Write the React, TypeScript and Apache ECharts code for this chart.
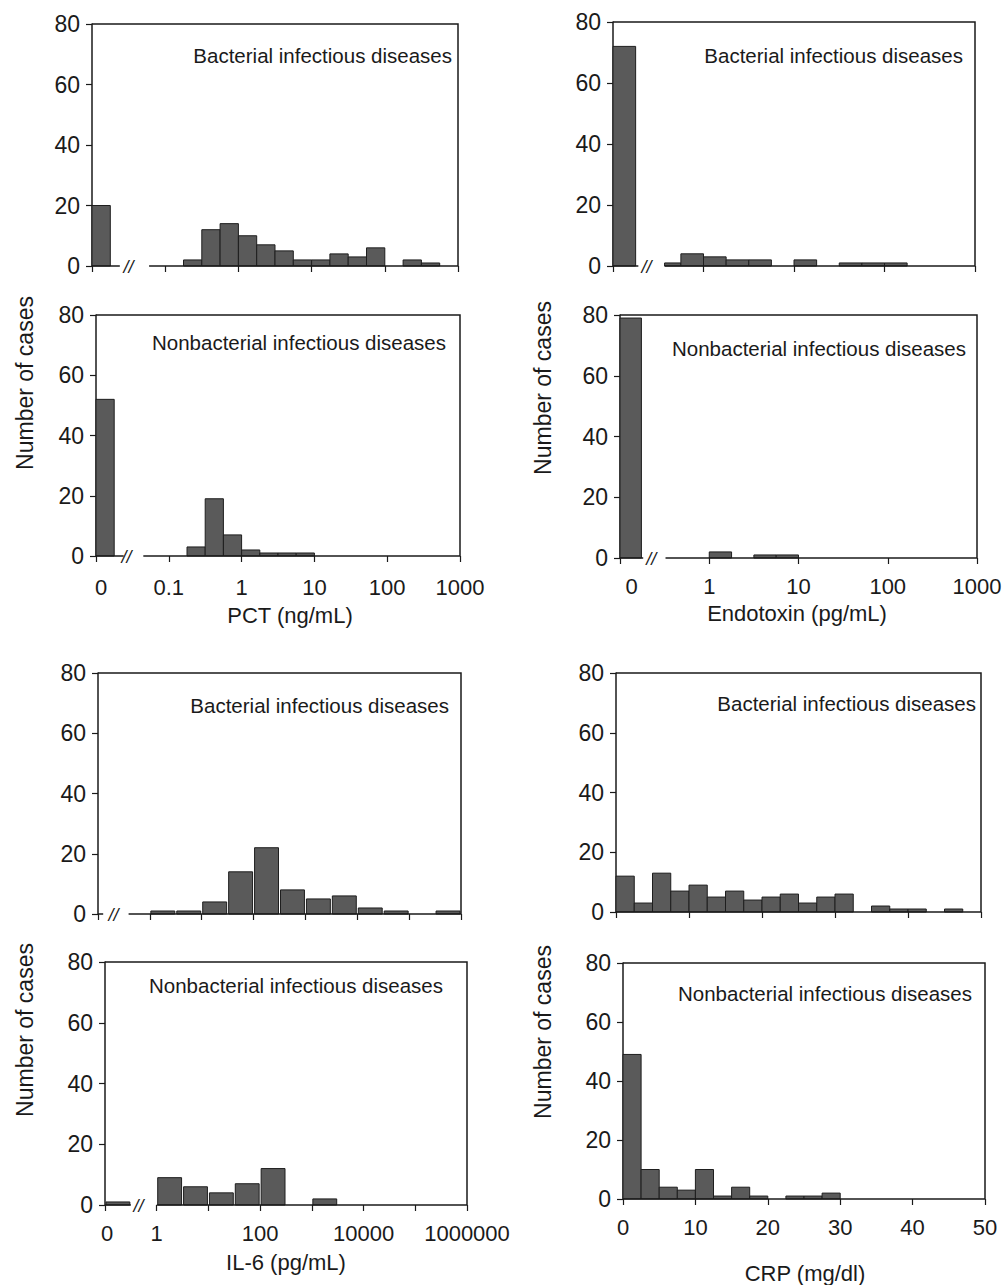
import React, { useEffect, useRef } from "react";
import * as echarts from "echarts";

// ---------------- DATA ----------------
// PCT (log10 scale, quarter-decade bins starting at 10^-0.75)
const pctBinStart = -0.75;
const pctBinWidth = 0.25;
const pctBactZero = 20;
const pctBactCounts = [2, 12, 14, 10, 7, 5, 2, 2, 4, 3, 6, 0, 2, 1, 0];
const pctNonZero = 52;
const pctNonCounts = [3, 19, 7, 2, 1, 1, 1, 0, 0, 0, 0, 0, 0, 0, 0];
const pctTickValues = [-1.93, -1, 0, 1, 2, 3];
const pctTickLabels = ["0", "0.1", "1", "10", "100", "1000"];

// Endotoxin (log10 scale, quarter-decade bins starting at 10^-0.5)
const endoBinStart = -0.5;
const endoBinWidth = 0.25;
const endoBactZero = 72;
const endoBactCounts = [1, 4, 3, 2, 2, 0, 2, 0, 1, 1, 1, 0, 0, 0];
const endoNonZero = 79;
const endoNonCounts = [0, 0, 2, 0, 1, 1, 0, 0, 0, 0, 0, 0, 0, 0];
const endoTickValues = [-0.87, 0, 1, 2, 3];
const endoTickLabels = ["0", "1", "10", "100", "1000"];

// IL-6 (log10 scale, half-decade bins starting at 10^0)
const il6BinStart = 0;
const il6BinWidth = 0.5;
const il6BactZero = 0;
const il6BactCounts = [1, 1, 4, 14, 22, 8, 5, 6, 2, 1, 0, 1];
const il6NonZero = 1;
const il6NonCounts = [9, 6, 4, 7, 12, 0, 2, 0, 0, 0, 0, 0];
const il6TickValues = [-0.96, 0, 2, 4, 6];
const il6TickLabels = ["0", "1", "100", "10000", "1000000"];

// CRP (linear, 2.5 mg/dl bins)
const crpBinStart = 0;
const crpBinWidth = 2.5;
const crpBactCounts = [12, 3, 13, 7, 9, 5, 7, 4, 5, 6, 3, 5, 6, 0, 2, 1, 1, 0, 1, 0];
const crpNonCounts = [49, 10, 4, 3, 10, 1, 4, 1, 0, 1, 1, 2, 0, 0, 0, 0, 0, 0, 0, 0];
const crpTickValues = [0, 10, 20, 30, 40, 50];
const crpTickLabels = ["0", "10", "20", "30", "40", "50"];

const yTicks = [0, 20, 40, 60, 80];
const bactTitle = "Bacterial infectious diseases";
const nonTitle = "Nonbacterial infectious diseases";

// ---------------- STYLE ----------------
const FONT = "'Liberation Sans', Arial, Helvetica, sans-serif";
const INK = "#1a1a1a";
const BAR_FILL = "#5a5a5a";
const BAR_STROKE = "#1e1e1e";

type Panel = {
  grid: { left: number; top: number; width: number; height: number };
  xMin: number;
  xMax: number;
  xInterval: number;
  zeroRange: number[] | null;
  zeroCount: number;
  binStart: number;
  binWidth: number;
  counts: number[];
  baseline: number[][];
  brk: number | null;
  clipFrom: number;
  gap: number;
  title: string;
  titleRight: number;
  titleY: number;
  labelValues: number[] | null;
  labelTexts: string[] | null;
  labelMargin: number;
};

const panels: Panel[] = [
  {
    grid: { left: 92, top: 24, width: 366, height: 242 },
    xMin: -2, xMax: 3, xInterval: 1,
    zeroRange: [-2, -1.75], zeroCount: pctBactZero,
    binStart: pctBinStart, binWidth: pctBinWidth, counts: pctBactCounts,
    baseline: [[-2, -1.62], [-1.22, 3]], brk: -1.5, clipFrom: -1.22, gap: 0,
    title: bactTitle, titleRight: 452, titleY: 55,
    labelValues: null, labelTexts: null, labelMargin: 20,
  },
  {
    grid: { left: 96, top: 315, width: 364, height: 241 },
    xMin: -2, xMax: 3, xInterval: 1,
    zeroRange: [-2, -1.75], zeroCount: pctNonZero,
    binStart: pctBinStart, binWidth: pctBinWidth, counts: pctNonCounts,
    baseline: [[-2, -1.62], [-1.35, 3]], brk: -1.58, clipFrom: -1.35, gap: 0,
    title: nonTitle, titleRight: 446, titleY: 342,
    labelValues: pctTickValues, labelTexts: pctTickLabels, labelMargin: 20,
  },
  {
    grid: { left: 613, top: 22, width: 362, height: 244 },
    xMin: -1, xMax: 3, xInterval: 1,
    zeroRange: [-1, -0.75], zeroCount: endoBactZero,
    binStart: endoBinStart, binWidth: endoBinWidth, counts: endoBactCounts,
    baseline: [[-1, -0.72], [-0.43, 3]], brk: -0.63, clipFrom: -0.43, gap: 0,
    title: bactTitle, titleRight: 963, titleY: 55,
    labelValues: null, labelTexts: null, labelMargin: 17,
  },
  {
    grid: { left: 620, top: 315, width: 357, height: 243 },
    xMin: -1, xMax: 3, xInterval: 1,
    zeroRange: [-1, -0.76], zeroCount: endoNonZero,
    binStart: endoBinStart, binWidth: endoBinWidth, counts: endoNonCounts,
    baseline: [[-1, -0.74], [-0.49, 3]], brk: -0.65, clipFrom: -0.49, gap: 0,
    title: nonTitle, titleRight: 966, titleY: 348,
    labelValues: endoTickValues, labelTexts: endoTickLabels, labelMargin: 17,
  },
  {
    grid: { left: 98, top: 673, width: 363, height: 241 },
    xMin: -1, xMax: 6, xInterval: 1,
    zeroRange: [-1, -0.5], zeroCount: il6BactZero,
    binStart: il6BinStart, binWidth: il6BinWidth, counts: il6BactCounts,
    baseline: [[-1, -0.9], [-0.41, 6]], brk: -0.7, clipFrom: -0.41, gap: 1,
    title: bactTitle, titleRight: 449, titleY: 705,
    labelValues: null, labelTexts: null, labelMargin: 17,
  },
  {
    grid: { left: 105, top: 962, width: 362, height: 243 },
    xMin: -1, xMax: 6, xInterval: 1,
    zeroRange: [-1, -0.5], zeroCount: il6NonZero,
    binStart: il6BinStart, binWidth: il6BinWidth, counts: il6NonCounts,
    baseline: [[-1, -0.5], [0, 6]], brk: -0.35, clipFrom: 0, gap: 1,
    title: nonTitle, titleRight: 443, titleY: 985,
    labelValues: il6TickValues, labelTexts: il6TickLabels, labelMargin: 17,
  },
  {
    grid: { left: 616, top: 673, width: 365, height: 239 },
    xMin: 0, xMax: 50, xInterval: 10,
    zeroRange: null, zeroCount: 0,
    binStart: crpBinStart, binWidth: crpBinWidth, counts: crpBactCounts,
    baseline: [[0, 50]], brk: null, clipFrom: 0, gap: 0,
    title: bactTitle, titleRight: 976, titleY: 703,
    labelValues: null, labelTexts: null, labelMargin: 17,
  },
  {
    grid: { left: 623, top: 963, width: 362, height: 236 },
    xMin: 0, xMax: 50, xInterval: 10,
    zeroRange: null, zeroCount: 0,
    binStart: crpBinStart, binWidth: crpBinWidth, counts: crpNonCounts,
    baseline: [[0, 50]], brk: null, clipFrom: 0, gap: 0,
    title: nonTitle, titleRight: 972, titleY: 993,
    labelValues: crpTickValues, labelTexts: crpTickLabels, labelMargin: 17,
  },
];

const axisTitles = [
  { text: "PCT (ng/mL)", x: 290, y: 615 },
  { text: "Endotoxin (pg/mL)", x: 797, y: 613 },
  { text: "IL-6 (pg/mL)", x: 286, y: 1262 },
  { text: "CRP (mg/dl)", x: 805, y: 1273 },
];
const yTitles = [
  { x: 25, y: 383 },
  { x: 543, y: 388 },
  { x: 25, y: 1030 },
  { x: 543, y: 1032 },
];

function buildOption() {
  const grid: any[] = [];
  const xAxis: any[] = [];
  const yAxis: any[] = [];
  const series: any[] = [];
  const graphic: any[] = [];

  panels.forEach((p, i) => {
    grid.push({ ...p.grid, containLabel: false });
    const vals = p.labelValues;
    const texts = p.labelTexts;
    xAxis.push({
      type: "value",
      gridIndex: i,
      min: p.xMin,
      max: p.xMax,
      interval: p.xInterval,
      axisLine: { show: false, onZero: false },
      splitLine: { show: false },
      axisTick: { show: true, inside: false, length: 6, lineStyle: { color: INK, width: 1.2 } },
      axisLabel: vals
        ? {
            show: true,
            customValues: vals,
            margin: p.labelMargin,
            fontSize: 22,
            fontFamily: FONT,
            color: INK,
            formatter: (v: number) => {
              const k = vals.findIndex((t) => Math.abs(t - v) < 1e-6);
              return k >= 0 && texts ? texts[k] : "";
            },
          }
        : { show: false },
    });
    yAxis.push({
      type: "value",
      gridIndex: i,
      min: yTicks[0],
      max: yTicks[yTicks.length - 1],
      interval: 20,
      axisLine: { show: true, onZero: false, lineStyle: { color: INK, width: 1.5 } },
      axisTick: { show: true, inside: false, length: 6, lineStyle: { color: INK, width: 1.2 } },
      splitLine: { show: false },
      axisLabel: { show: true, margin: 12, fontSize: 23, fontFamily: FONT, color: INK },
    });

    // histogram bins
    const bins: number[][] = [];
    if (p.zeroRange) bins.push([p.zeroRange[0], p.zeroRange[1], p.zeroCount]);
    p.counts.forEach((c, k) => {
      const lo = p.binStart + k * p.binWidth;
      bins.push([k === 0 ? Math.max(lo, p.clipFrom) : lo, lo + p.binWidth, c]);
    });
    const gap = p.gap;

    // baseline segments
    series.push({
      type: "custom",
      xAxisIndex: i,
      yAxisIndex: i,
      silent: true,
      encode: { x: [0, 1], y: 2 },
      data: p.baseline.map((s) => [s[0], s[1], 0]),
      renderItem: (params: any, api: any) => {
        const a = api.coord([api.value(0), 0]);
        const b = api.coord([api.value(1), 0]);
        return {
          type: "line",
          shape: { x1: a[0], y1: a[1], x2: b[0], y2: b[1] },
          style: { stroke: INK, lineWidth: 1.5 },
        };
      },
      z: 3,
    });

    // bars
    series.push({
      type: "custom",
      xAxisIndex: i,
      yAxisIndex: i,
      silent: true,
      encode: { x: [0, 1], y: 2 },
      data: bins,
      renderItem: (params: any, api: any) => {
        const c = api.value(2);
        if (!c) return null;
        const p0 = api.coord([api.value(0), 0]);
        const p1 = api.coord([api.value(1), c]);
        return {
          type: "rect",
          shape: { x: p0[0] + gap, y: p1[1], width: p1[0] - p0[0] - 2 * gap, height: p0[1] - p1[1] },
          style: { fill: BAR_FILL, stroke: BAR_STROKE, lineWidth: 1 },
        };
      },
      z: 2,
    });

    // frame (top and right edges)
    series.push({
      type: "custom",
      xAxisIndex: i,
      yAxisIndex: i,
      silent: true,
      encode: { x: 0, y: 1 },
      data: [[p.xMin, 0]],
      renderItem: (params: any) => {
        const cs = params.coordSys;
        return {
          type: "polyline",
          shape: {
            points: [
              [cs.x, cs.y],
              [cs.x + cs.width, cs.y],
              [cs.x + cs.width, cs.y + cs.height],
            ],
          },
          style: { stroke: INK, lineWidth: 1.5, fill: null },
        };
      },
      z: 1,
    });

    // axis break mark
    if (p.brk !== null) {
      series.push({
        type: "custom",
        xAxisIndex: i,
        yAxisIndex: i,
        silent: true,
        encode: { x: 0, y: 1 },
        data: [[p.brk, 0]],
        renderItem: (params: any, api: any) => {
          const pt = api.coord([api.value(0), 0]);
          return {
            type: "text",
            x: pt[0],
            y: pt[1] + 1,
            style: {
              text: "//",
              fontSize: 18,
              fontFamily: FONT,
              fontStyle: "italic",
              fill: INK,
              align: "center",
              verticalAlign: "middle",
            },
          };
        },
        z: 4,
      });
    }

    graphic.push({
      type: "text",
      x: p.titleRight,
      y: p.titleY,
      style: {
        text: p.title,
        fontSize: 20.5,
        fontFamily: FONT,
        fill: INK,
        align: "right",
        verticalAlign: "middle",
      },
    });
  });

  axisTitles.forEach((t) => {
    graphic.push({
      type: "text",
      x: t.x,
      y: t.y,
      style: { text: t.text, fontSize: 22, fontFamily: FONT, fill: INK, align: "center", verticalAlign: "middle" },
    });
  });
  yTitles.forEach((t) => {
    graphic.push({
      type: "text",
      x: t.x,
      y: t.y,
      rotation: Math.PI / 2,
      style: { text: "Number of cases", fontSize: 23, fontFamily: FONT, fill: INK, align: "center", verticalAlign: "middle" },
    });
  });

  return {
    animation: false,
    backgroundColor: "#ffffff",
    textStyle: { fontFamily: FONT },
    grid,
    xAxis,
    yAxis,
    series,
    graphic,
  };
}

export default function App() {
  const ref = useRef<HTMLDivElement>(null);
  useEffect(() => {
    document.body.style.margin = "0";
    if (!ref.current) return;
    const chart = echarts.init(ref.current, undefined, { renderer: "svg" });
    chart.setOption(buildOption() as any);
    return () => {
      chart.dispose();
    };
  }, []);
  return <div ref={ref} style={{ width: 1005, height: 1285, background: "#fff" }} />;
}
